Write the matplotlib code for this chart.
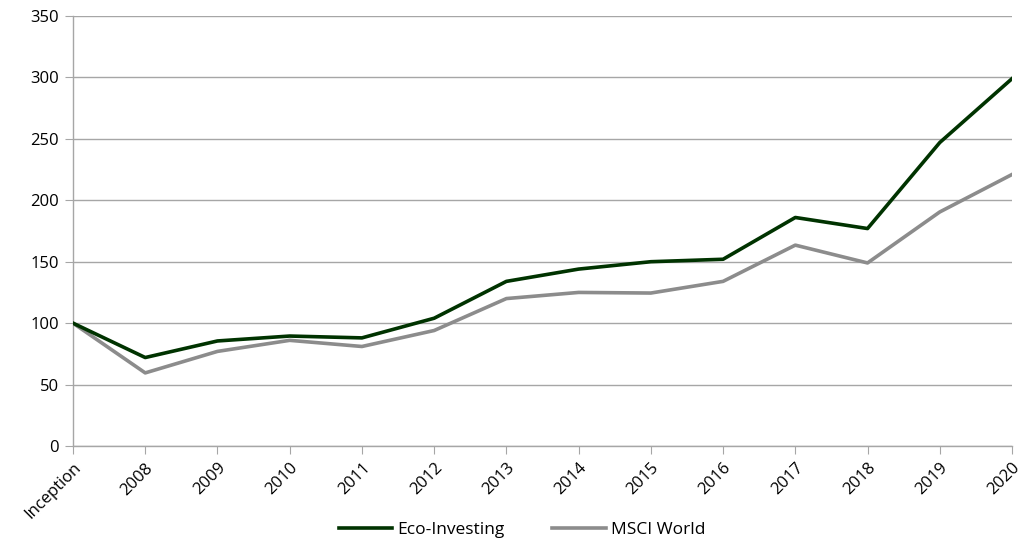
import matplotlib
matplotlib.use("Agg")
import matplotlib.pyplot as plt

categories = ["Inception", "2008", "2009", "2010", "2011", "2012", "2013",
              "2014", "2015", "2016", "2017", "2018", "2019", "2020"]
eco_investing = [100, 72, 85.5, 89.5, 88, 104, 134, 144, 150, 152, 186, 177, 247, 299]
msci_world = [100, 59.5, 77, 86, 81, 94, 120, 125, 124.5, 134, 163.5, 149, 190.5, 221]
y_ticks = [0, 50, 100, 150, 200, 250, 300, 350]

plt.rcParams['font.family'] = ['Open Sans', 'DejaVu Sans']

fig = plt.figure(figsize=(10.29, 5.38), dpi=100)
ax = fig.add_axes([73/1029, 1 - 446/538, (1012-73)/1029, (446-16)/538])

x = list(range(len(categories)))
ax.plot(x, msci_world, color="#8c8c8c", lw=2.6, label="MSCI World", zorder=3)
ax.plot(x, eco_investing, color="#003300", lw=2.6, label="Eco-Investing", zorder=4)

ax.set_xlim(0, len(categories) - 1)
ax.set_ylim(0, 350)
ax.set_yticks(y_ticks)
ax.set_xticks(x)
ax.set_xticklabels(categories, rotation=45, ha="right", rotation_mode="anchor", fontsize=12)
ax.tick_params(axis="y", labelsize=12, length=6, color="#a6a6a6", pad=4)
ax.tick_params(axis="x", length=6, color="#a6a6a6", pad=4)
ax.grid(axis="y", color="#a6a6a6", lw=1)
ax.set_axisbelow(True)
for s in ["top", "right"]:
    ax.spines[s].set_visible(False)
for s in ["left", "bottom"]:
    ax.spines[s].set_color("#a6a6a6")
    ax.spines[s].set_linewidth(1)

h, l = ax.get_legend_handles_labels()
fig.legend(h[::-1], l[::-1], loc="center", bbox_to_anchor=(522/1029, 1 - 530/538), ncol=2,
           frameon=False, fontsize=12.5, handlelength=3.1, columnspacing=2.7, handletextpad=0.3)

fig.savefig("out.png", dpi=100)
